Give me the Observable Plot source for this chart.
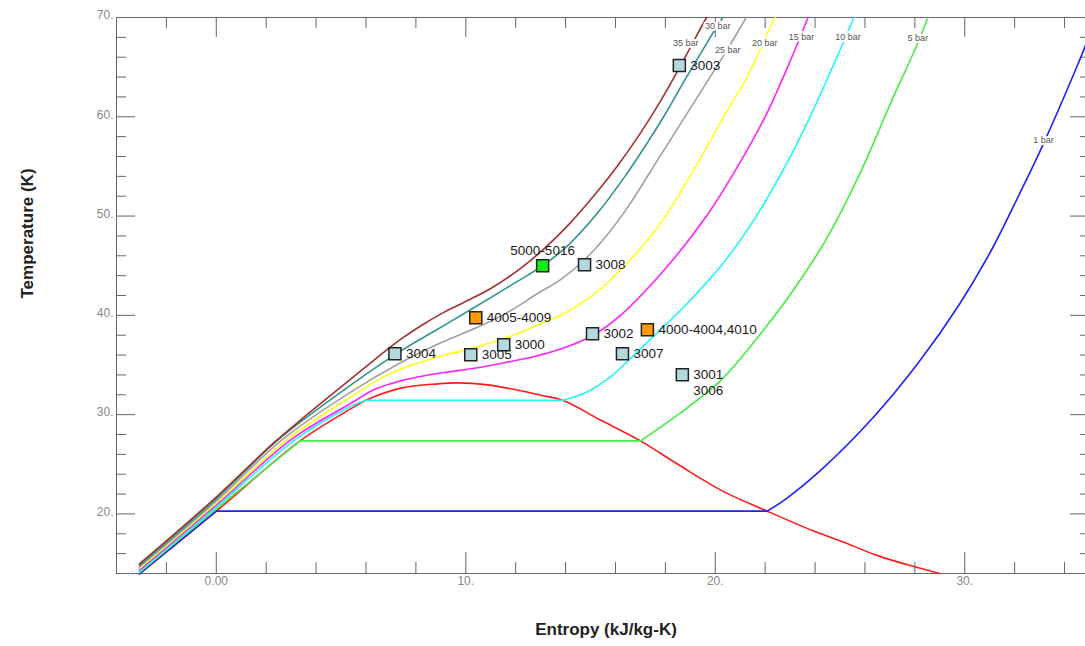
<!DOCTYPE html>
<html>
<head>
<meta charset="utf-8">
<script src="https://cdn.jsdelivr.net/npm/d3@7"></script>
<script src="https://cdn.jsdelivr.net/npm/@observablehq/plot@0.6"></script>
<style>
  html, body { margin: 0; padding: 0; background: #fff; overflow: hidden; }
  #chart svg { display: block; }
</style>
</head>
<body>
<div id="chart"></div>
<script>
// ---------- DATA (entropy s in kJ/kg-K, temperature T in K) ----------
const isobarNames = ["1 bar", "5 bar", "10 bar", "15 bar", "20 bar", "25 bar", "30 bar", "35 bar"];

// Subcritical isobars: compressed-liquid branch and superheated-vapour branch
const p1Liquid = [[-3.08, 13.95], [0, 20.28]];
const p1Vapor = [[22.08, 20.28], [22.88, 21.6], [24.2, 24.33], [26.32, 29.68], [28.2, 35.42], [29.8, 41.17],
  [31.12, 46.81], [32.2, 52.26], [33.12, 57.1], [34.48, 64.96], [35.0, 68.2]];

const p5Liquid = [[-3.08, 14.08], [0, 20.5], [3.36, 27.36]];
const p5Vapor = [[17.0, 27.36], [18.4, 29.8], [20.2, 33.4], [21.8, 38.1], [23.12, 42.5], [24.48, 47.8],
  [25.8, 54.3], [27.12, 61.9], [28.08, 67.2], [28.52, 70]];

const p10Liquid = [[-3.08, 14.2], [0, 20.7], [3.2, 27.56], [5.4, 30.85], [6.0, 31.45]];
const p10Vapor = [[13.88, 31.45], [14.8, 32.2], [15.8, 33.8], [16.7, 35.9], [17.7, 38.3], [18.8, 41.0],
  [20.3, 45.2], [21.65, 50.0], [22.8, 55.0], [23.8, 60.0], [24.7, 65.0], [25.56, 70]];

// Supercritical isobars
const p15 = [[-3.08, 14.35], [0, 20.9], [3.04, 27.56], [5.4, 31.15], [6.4, 32.6], [7.4, 33.4], [8.4, 33.95],
  [9.4, 34.33], [10.4, 34.7], [11.52, 35.22], [12.72, 35.83], [13.8, 36.6], [15.1, 38.0], [16.2, 40.0],
  [18.1, 45.0], [19.65, 50.0], [20.9, 55.0], [22.0, 60.0], [22.9, 65.0], [23.72, 70]];
const p20 = [[-3.08, 14.51], [0, 21.1], [2.88, 27.56], [5.4, 31.8], [6.4, 33.4], [7.4, 34.6], [8.4, 35.45],
  [9.4, 36.15], [10.2, 36.65], [11.52, 37.64], [12.72, 38.85], [13.92, 40.16], [15.12, 42.08], [16.4, 45.1],
  [17.8, 49.23], [19.12, 54.58], [20.48, 60.62], [21.2, 63.65], [21.6, 65.67], [22.08, 68.39], [22.4, 70]];
const p25 = [[-3.08, 14.66], [0, 21.3], [2.68, 27.56], [5.4, 32.3], [7.4, 35.25], [9.0, 37.24], [10.6, 38.95],
  [11.68, 40.3], [12.88, 42.2], [13.8, 43.6], [14.72, 45.5], [15.6, 47.9], [16.48, 50.85], [17.8, 56.09],
  [19.12, 61.33], [20.48, 66.77], [21.24, 70]];
const p30 = [[-3.08, 14.81], [0, 21.5], [2.52, 27.56], [5.4, 33.0], [7.4, 36.43], [8.8, 38.5], [10.12, 40.46],
  [11.92, 43.19], [13.08, 45.0], [14.08, 47.0], [15.28, 50.3], [16.4, 54.07], [17.28, 57.4], [17.92, 59.95],
  [18.72, 63.45], [19.3, 65.9], [19.85, 68.2], [20.3, 70]];
const p35 = [[-3.08, 14.96], [0, 21.7], [2.32, 27.2], [3.4, 29.5], [5.4, 33.6], [6.4, 35.65], [7.4, 37.6],
  [8.3, 39.1], [9.12, 40.3], [9.92, 41.3], [11.0, 42.7], [12.2, 44.74], [13.2, 46.84], [14.2, 49.34],
  [15.2, 52.24], [16.1, 55.12], [17.0, 58.36], [17.8, 61.56], [18.5, 64.64], [19.2, 67.93], [19.65, 70]];

// Saturation dome (liquid + vapour lines)
const saturationDome = [[-3.08, 13.95], [0, 20.28], [3.36, 27.36], [5.4, 30.6], [6.0, 31.45], [7.4, 32.67],
  [8.88, 33.1], [9.68, 33.2], [10.88, 33.0], [12.2, 32.4], [13.0, 31.95], [13.88, 31.45], [15.4, 29.46],
  [17.0, 27.36], [18.5, 25.0], [20.3, 22.3], [22.08, 20.28], [23.92, 18.3], [25.0, 17.3], [26.5, 15.8],
  [27.9, 14.75], [29.0, 14.0]];

// Isobar labels
const barLabels = ["35 bar", "30 bar", "25 bar", "20 bar", "15 bar", "10 bar", "5 bar", "1 bar"];
const barLabelS = [18.82, 20.1, 20.5, 21.98, 23.46, 25.32, 28.12, 33.16];
const barLabelT = [67.43, 69.09, 66.67, 67.43, 68.03, 68.03, 67.93, 57.7];

// State points
const pointLabels = ["3003", "5000-5016", "3008", "4005-4009", "3004", "3005", "3000", "3002",
  "4000-4004,4010", "3007", "3001\n3006"];
const pointS = [18.56, 13.08, 14.76, 10.4, 7.16, 10.2, 11.52, 15.08, 17.28, 16.28, 18.68];
const pointT = [65.16, 45.0, 45.1, 39.76, 36.13, 36.03, 37.04, 38.15, 38.55, 36.13, 34.01];
const pointKind = ["test", "group5000", "test", "group4000", "test", "test", "test", "test",
  "group4000", "test", "test"];

// Axes
const xMajorTicks = [0, 10, 20, 30];
const xTickLabels = ["0.00", "10.", "20.", "30."];
const xMinorTicks = [-2, 2, 4, 6, 8, 12, 14, 16, 18, 22, 24, 26, 28, 32, 34];
const yMajorTicks = [20, 30, 40, 50, 60, 70];
const yTickLabels = ["20.", "30.", "40.", "50.", "60.", "70."];
const yMinorTicks = [16, 18, 22, 24, 26, 28, 32, 34, 36, 38, 42, 44, 46, 48, 52, 54, 56, 58, 62, 64, 66, 68];

// ---------- STYLE ----------
const isobarColors = {
  "1 bar": "#1f1fff", "5 bar": "#44ee44", "10 bar": "#1ff5ff", "15 bar": "#ff22ff",
  "20 bar": "#ffff1a", "25 bar": "#a0a0a0", "30 bar": "#2f9393", "35 bar": "#a33030"
};
const kindFill = { test: "#b3d9dc", group4000: "#ff9900", group5000: "#11ee11" };
const axisGrey = "#666";

// ---------- BUILD ----------
const segments = [
  {bar: "1 bar", pts: p1Liquid}, {bar: "1 bar", pts: [p1Liquid[p1Liquid.length - 1], p1Vapor[0]]}, {bar: "1 bar", pts: p1Vapor},
  {bar: "5 bar", pts: p5Liquid}, {bar: "5 bar", pts: [p5Liquid[p5Liquid.length - 1], p5Vapor[0]]}, {bar: "5 bar", pts: p5Vapor},
  {bar: "10 bar", pts: p10Liquid}, {bar: "10 bar", pts: [p10Liquid[p10Liquid.length - 1], p10Vapor[0]]}, {bar: "10 bar", pts: p10Vapor},
  {bar: "15 bar", pts: p15}, {bar: "20 bar", pts: p20}, {bar: "25 bar", pts: p25},
  {bar: "30 bar", pts: p30}, {bar: "35 bar", pts: p35}
];
const lineRows = segments.flatMap((seg, k) => seg.pts.map(([s, T]) => ({bar: seg.bar, k, s, T})));
const domeRows = saturationDome.map(([s, T]) => ({s, T}));
const pointRows = pointLabels.map((label, i) => ({label, s: pointS[i], T: pointT[i], kind: pointKind[i]}));
const barRows = barLabels.map((label, i) => ({label, s: barLabelS[i], T: barLabelT[i]}));

const W = 1089, H = 646, mL = 116, mT = 17, mB = 73, mR = 0;
const frameW = W - mL - mR, frameH = H - mT - mB;

const chart = Plot.plot({
  width: W, height: H,
  marginLeft: mL, marginRight: mR, marginTop: mT, marginBottom: mB,
  x: {domain: [-4, 35], axis: null},
  y: {domain: [14, 70], axis: null},
  style: {fontFamily: "Arial, 'Liberation Sans', sans-serif", background: "#fff", maxWidth: "none", overflow: "visible"},
  marks: [
    // ticks pointing inward on all four sides
    Plot.ruleX(xMajorTicks, {x: d => d, insetTop: frameH - 21, stroke: axisGrey}),
    Plot.ruleX(xMinorTicks, {x: d => d, insetTop: frameH - 11, stroke: axisGrey}),
    Plot.ruleX(xMajorTicks, {x: d => d, insetBottom: frameH - 20, stroke: axisGrey}),
    Plot.ruleX(xMinorTicks, {x: d => d, insetBottom: frameH - 11, stroke: axisGrey}),
    Plot.ruleY(yMajorTicks, {y: d => d, insetRight: frameW - 19, stroke: axisGrey}),
    Plot.ruleY(yMinorTicks, {y: d => d, insetRight: frameW - 10, stroke: axisGrey}),
    Plot.ruleY(yMajorTicks, {y: d => d, insetLeft: frameW - 19, stroke: axisGrey}),
    Plot.ruleY(yMinorTicks, {y: d => d, insetLeft: frameW - 9, stroke: axisGrey}),
    Plot.frame({stroke: axisGrey}),

    // saturation dome
    Plot.line(domeRows, {x: "s", y: "T", stroke: "#ff1a1a", strokeWidth: 1.6, curve: "catmull-rom"}),
    // isobars
    Plot.line(lineRows, {x: "s", y: "T", z: "k", stroke: d => isobarColors[d.bar], strokeWidth: 1.6, curve: "catmull-rom"}),

    // isobar labels with white mask
    Plot.text(barRows, {x: "s", y: "T", text: "label", fontSize: 9, fill: "#555", stroke: "#fff", strokeWidth: 4}),

    // state points
    Plot.dot(pointRows, {x: "s", y: "T", symbol: "square", r: 6.8, fill: d => kindFill[d.kind], stroke: "#222", strokeWidth: 1.5}),
    Plot.text(pointRows.filter(d => d.kind !== "group5000"), {x: "s", y: "T", text: d => d.label.split("\n")[0],
      textAnchor: "start", dx: 11, fontSize: 13.5, fill: "#1a1a1a"}),
    Plot.text(pointRows.filter(d => d.label.includes("\n")), {x: "s", y: "T", text: d => d.label.split("\n")[1],
      textAnchor: "start", dx: 11, dy: 16, fontSize: 13.5, fill: "#1a1a1a"}),
    Plot.text(pointRows.filter(d => d.kind === "group5000"), {x: "s", y: "T", text: "label",
      textAnchor: "middle", dy: -15, fontSize: 13.5, fill: "#1a1a1a"}),

    // tick labels
    Plot.text(xMajorTicks, {x: d => d, text: (d, i) => xTickLabels[i], frameAnchor: "bottom", dy: 11, fontSize: 12, fill: "#888"}),
    Plot.text(yMajorTicks, {y: d => d, text: (d, i) => yTickLabels[i], frameAnchor: "left", dx: -3, dy: -2, textAnchor: "end", fontSize: 12, fill: "#888"}),

    // axis titles
    Plot.text(["Entropy (kJ/kg-K)"], {frameAnchor: "bottom", dx: 3, dy: 61, fontSize: 17, fontWeight: "bold", fill: "#222"}),
    Plot.text(["Temperature (K)"], {frameAnchor: "left", dx: -89, dy: 3, rotate: -90, fontSize: 17, fontWeight: "bold", fill: "#222"})
  ]
});
document.getElementById("chart").appendChild(chart);
</script>
</body>
</html>
